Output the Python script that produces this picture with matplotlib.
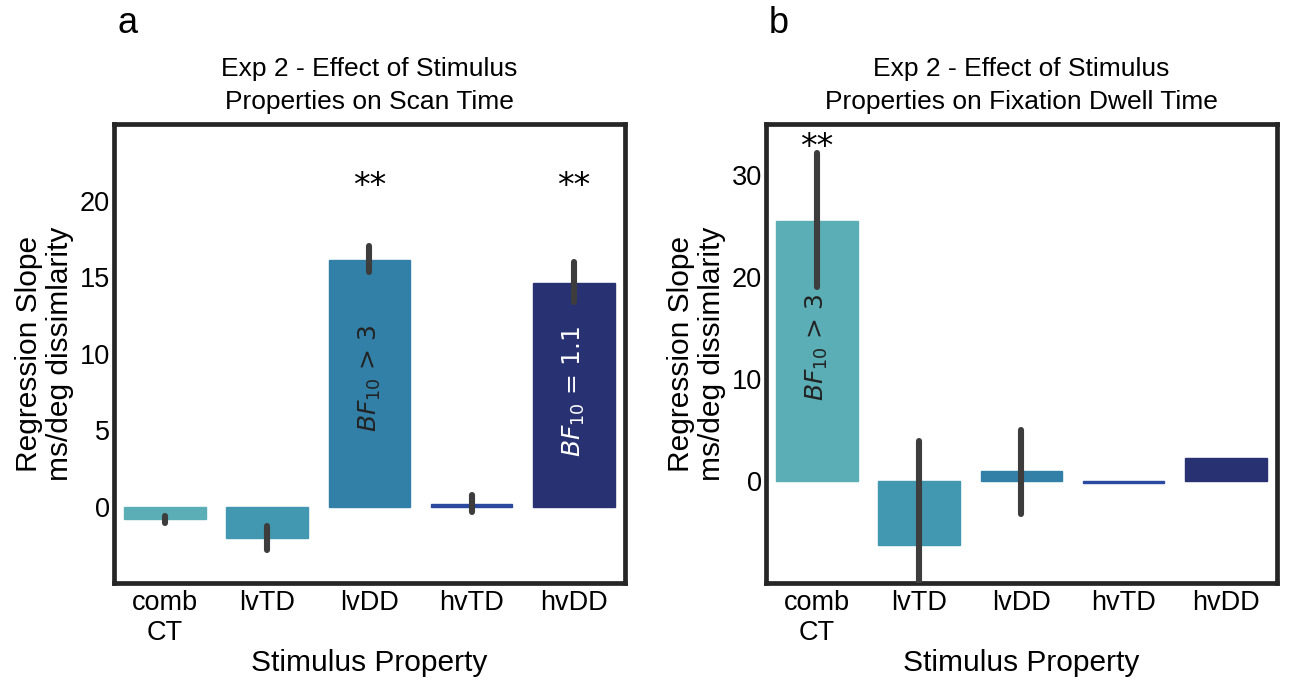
import matplotlib.pyplot as plt

plt.rcParams["font.family"] = ["Liberation Sans", "DejaVu Sans"]
plt.rcParams["mathtext.fontset"] = "dejavusans"

# Dados
categorias = ["comb\nCT", "lvTD", "lvDD", "hvTD", "hvDD"]
cores = ["#5BAEB5", "#4298B0", "#3280A8", "#2C49A0", "#283273"]

# painel a - tempo de varredura
scan_media = [-0.8, -2.05, 16.1, 0.15, 14.6]
scan_ic_baixo = [-1.05, -2.85, 15.3, -0.35, 13.4]
scan_ic_alto = [-0.65, -1.3, 17.0, 0.75, 16.0]

# painel b - tempo de fixação
dwell_media = [25.5, -6.3, 0.95, -0.15, 2.3]
dwell_ic_baixo = [19.0, -16.0, -3.2, -0.15, 2.3]
dwell_ic_alto = [32.2, 3.9, 5.0, -0.15, 2.3]
dwell_tem_erro = [True, True, True, False, False]


def painel(ax, media, baixo, alto, tem_erro, titulo, ylim, yticks):
    x = range(len(categorias))
    ax.bar(x, media, width=0.8, color=cores, edgecolor=cores, linewidth=1)
    for i in x:
        if tem_erro[i]:
            ax.plot([i, i], [baixo[i], alto[i]], color="#3d3d3d", lw=4.4,
                    solid_capstyle="round", zorder=3)
    ax.set_xlim(-0.5, 4.5)
    ax.set_ylim(*ylim)
    ax.set_yticks(yticks)
    ax.set_xticks(list(x))
    ax.set_xticklabels(categorias, fontsize=19.5, linespacing=1.2)
    ax.tick_params(axis="both", length=0, labelsize=19.5, pad=3)
    ax.tick_params(axis="x", pad=5)
    for s in ax.spines.values():
        s.set_linewidth(3.4)
        s.set_color("#262626")
    ax.set_title(titulo, fontsize=19, pad=11, linespacing=1.45)
    ax.set_xlabel("Stimulus Property", fontsize=21.5, labelpad=2)
    ax.set_ylabel("Regression Slope\nms/deg dissimlarity", fontsize=21.5,
                  labelpad=4, linespacing=1.15)


fig = plt.figure(figsize=(12.9, 6.8), dpi=100)
ax1 = fig.add_axes([0.0884, 0.1426, 0.396, 0.675])
ax2 = fig.add_axes([0.5938, 0.1426, 0.396, 0.675])

painel(ax1, scan_media, scan_ic_baixo, scan_ic_alto, [True] * 5,
       "Exp 2 - Effect of Stimulus\nProperties on Scan Time",
       (-5, 25), [0, 5, 10, 15, 20])
painel(ax2, dwell_media, dwell_ic_baixo, dwell_ic_alto, dwell_tem_erro,
       "Exp 2 - Effect of Stimulus\nProperties on Fixation Dwell Time",
       (-10, 35), [0, 10, 20, 30])

# anotações de significância e fatores de Bayes
ax1.text(2, 20.9, "**", ha="center", va="center", fontsize=24, family="DejaVu Sans")
ax1.text(4, 20.9, "**", ha="center", va="center", fontsize=24, family="DejaVu Sans")
ax1.text(2, 8.4, r"$BF_{10}$ > 3", rotation=90, ha="center", va="center",
         fontsize=18, color="#222222", family="DejaVu Sans")
ax1.text(4, 7.5, r"$BF_{10}$ = 1.1", rotation=90, ha="center", va="center",
         fontsize=18, color="white", family="DejaVu Sans")
ax2.text(0, 32.7, "**", ha="center", va="center", fontsize=24, family="DejaVu Sans")
ax2.text(0, 13.1, r"$BF_{10}$ > 3", rotation=90, ha="center", va="center",
         fontsize=18, color="#222222", family="DejaVu Sans")

fig.text(0.099, 0.965, "a", fontsize=26, va="center", ha="center")
fig.text(0.604, 0.965, "b", fontsize=26, va="center", ha="center")

plt.savefig("out.png", dpi=100)
